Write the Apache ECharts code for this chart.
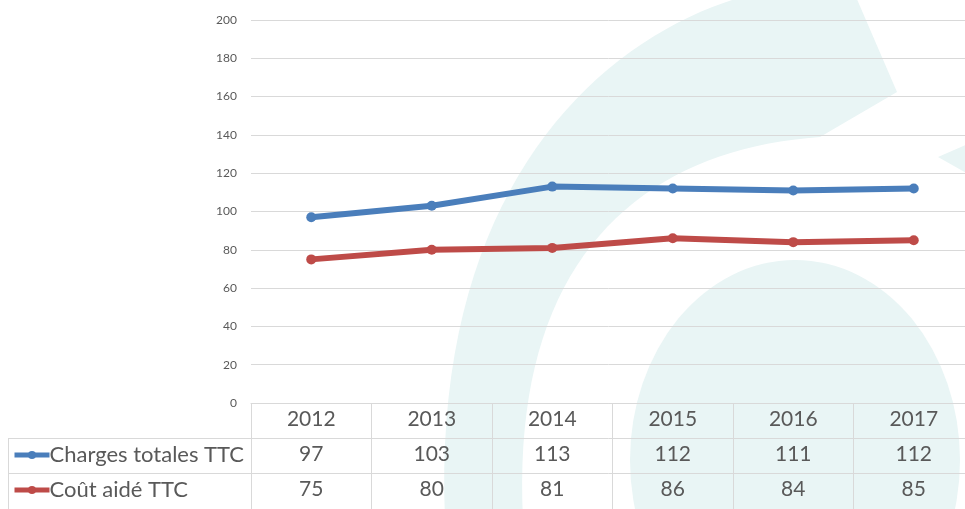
<!DOCTYPE html>
<html>
<head>
<meta charset="utf-8">
<script src="https://cdn.jsdelivr.net/npm/echarts@6/dist/echarts.min.js"></script>
<style>
  html, body { margin: 0; padding: 0; background: #fff; }
  #main { width: 965px; height: 509px; }
</style>
</head>
<body>
<div id="main"></div>
<script>
// données
const years = ['2012', '2013', '2014', '2015', '2016', '2017'];
const chargesTotales = [97, 103, 113, 112, 111, 112];
const coutAide = [75, 80, 81, 86, 84, 85];
const seriesNames = ['Charges totales TTC', 'Coût aidé TTC'];

const gridCol = '#d9d9d9';
const txtCol = '#595959';
const teal = '#e9f5f5';
const font = 'Lato, "Open Sans", sans-serif';

const chart = echarts.init(document.getElementById('main'));

// points d'une courbe de Bézier cubique (pour le filigrane)
function bez(p0, p1, p2, p3, n) {
  const pts = [];
  for (let i = 0; i <= n; i++) {
    const t = i / n, u = 1 - t;
    pts.push([
      u*u*u*p0[0] + 3*u*u*t*p1[0] + 3*u*t*t*p2[0] + t*t*t*p3[0],
      u*u*u*p0[1] + 3*u*u*t*p1[1] + 3*u*t*t*p2[1] + t*t*t*p3[1]
    ]);
  }
  return pts;
}
const swoosh = bez([445, 520], [430, 170], [620, 20], [770, -10], 40)
  .concat([[853, -10], [897, 92]])
  .concat(bez([820, 137], [640, 150], [510, 260], [523, 520], 40));

// un axe x par ligne du tableau de données
function tableAxis(offset, values) {
  return {
    type: 'category',
    data: years,
    position: 'bottom',
    offset: offset,
    axisLine: { show: true, lineStyle: { color: gridCol, width: 1 } },
    axisTick: { show: false },
    axisLabel: {
      margin: 6,
      fontSize: 21,
      color: txtCol,
      fontFamily: font,
      interval: 0,
      formatter: (v, i) => values ? String(values[i]) : v
    }
  };
}

const xYears = tableAxis(0, null);
xYears.axisTick = { show: true, interval: 0, length: 106, lineStyle: { color: gridCol } };

function legendRow(name, top) {
  return {
    left: 12,
    top: top,
    itemWidth: 35,
    itemHeight: 10,
    padding: 0,
    lineStyle: { width: 5 },
    textStyle: { fontSize: 22, color: txtCol, fontFamily: font, padding: [0, 0, 0, -5] },
    data: [name]
  };
}

const option = {
  backgroundColor: '#fff',
  animation: false,
  graphic: [
    // filigrane (logo) en fond
    { type: 'polygon', z: -10, silent: true, shape: { points: swoosh }, style: { fill: teal } },
    { type: 'circle', z: -10, silent: true, x: 795, y: 460, scaleX: 0.825,
      shape: { cx: 0, cy: 0, r: 200 }, style: { fill: teal } },
    { type: 'polygon', z: -10, silent: true,
      shape: { points: [[938, 157], [970, 143], [970, 175]] }, style: { fill: teal } },
    // bordures du tableau à gauche
    { type: 'line', shape: { x1: 8, y1: 438.5, x2: 251, y2: 438.5 }, style: { stroke: gridCol, lineWidth: 1 } },
    { type: 'line', shape: { x1: 8, y1: 473.5, x2: 251, y2: 473.5 }, style: { stroke: gridCol, lineWidth: 1 } },
    { type: 'line', shape: { x1: 8.5, y1: 438, x2: 8.5, y2: 509 }, style: { stroke: gridCol, lineWidth: 1 } }
  ],
  legend: [legendRow(seriesNames[0], 444), legendRow(seriesNames[1], 479)],
  grid: { left: 251, top: 20, width: 723, height: 383, containLabel: false, outerBoundsMode: 'none' },
  xAxis: [xYears, tableAxis(35, chargesTotales), tableAxis(70, coutAide)],
  yAxis: {
    type: 'value',
    min: 0,
    max: 200,
    interval: 20,
    axisLine: { show: false },
    axisTick: { show: false },
    axisLabel: { margin: 14, fontSize: 12, color: txtCol, fontFamily: font },
    splitLine: { lineStyle: { color: gridCol, width: 1 } }
  },
  series: [
    {
      name: seriesNames[0],
      type: 'line',
      data: chargesTotales,
      color: '#4a7ebb',
      symbol: 'circle',
      symbolSize: 10,
      lineStyle: { width: 6 }
    },
    {
      name: seriesNames[1],
      type: 'line',
      data: coutAide,
      color: '#be4b48',
      symbol: 'circle',
      symbolSize: 10,
      lineStyle: { width: 6 }
    }
  ]
};

chart.setOption(option);
</script>
</body>
</html>
